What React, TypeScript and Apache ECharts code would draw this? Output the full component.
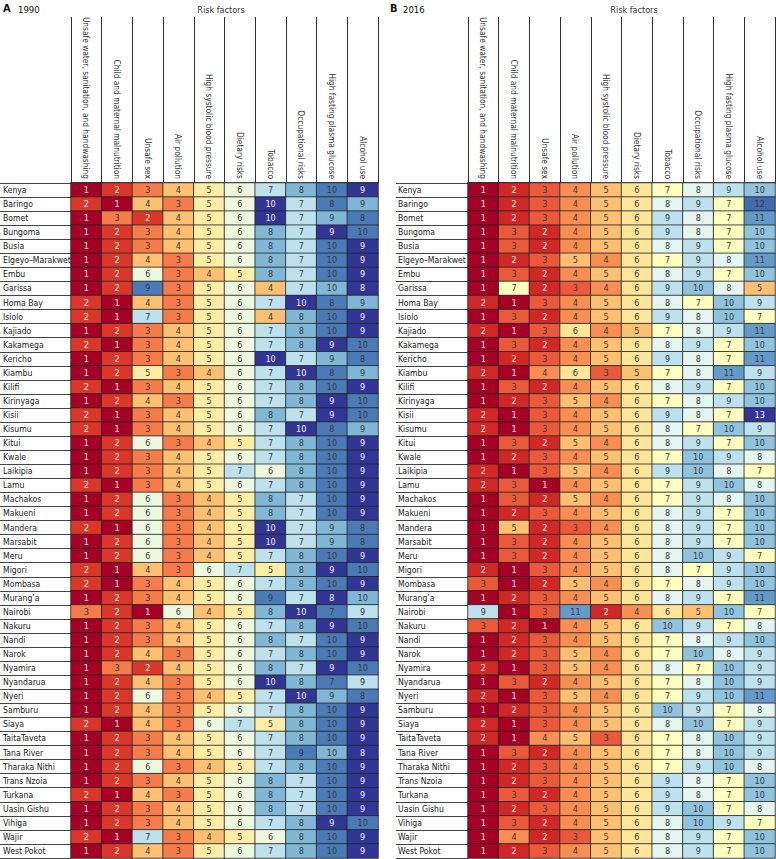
import React, { useEffect, useRef } from "react";
import * as echarts from "echarts";

const counties = [
  "Kenya", "Baringo", "Bomet", "Bungoma", "Busia", "Elgeyo–Marakwet", "Embu", "Garissa",
  "Homa Bay", "Isiolo", "Kajiado", "Kakamega", "Kericho", "Kiambu", "Kilifi", "Kirinyaga",
  "Kisii", "Kisumu", "Kitui", "Kwale", "Laikipia", "Lamu", "Machakos", "Makueni",
  "Mandera", "Marsabit", "Meru", "Migori", "Mombasa", "Murang’a", "Nairobi", "Nakuru",
  "Nandi", "Narok", "Nyamira", "Nyandarua", "Nyeri", "Samburu", "Siaya", "TaitaTaveta",
  "Tana River", "Tharaka Nithi", "Trans Nzoia", "Turkana", "Uasin Gishu", "Vihiga", "Wajir", "West Pokot",
];

const riskFactors = [
  "Unsafe water, sanitation, and handwashing",
  "Child and maternal malnutrition",
  "Unsafe sex",
  "Air pollution",
  "High systolic blood pressure",
  "Dietary risks",
  "Tobacco",
  "Occupational risks",
  "High fasting plasma glucose",
  "Alcohol use",
];

const ranks1990 = [
  [1, 2, 3, 4, 5, 6, 7, 8, 10, 9],
  [2, 1, 4, 3, 5, 6, 10, 7, 8, 9],
  [1, 3, 2, 4, 5, 6, 10, 7, 9, 8],
  [1, 2, 3, 4, 5, 6, 8, 7, 9, 10],
  [1, 2, 3, 4, 5, 6, 8, 7, 10, 9],
  [1, 2, 4, 3, 5, 6, 8, 7, 10, 9],
  [1, 2, 6, 3, 4, 5, 8, 7, 10, 9],
  [1, 2, 9, 3, 5, 6, 4, 7, 10, 8],
  [2, 1, 4, 3, 5, 6, 7, 10, 8, 9],
  [2, 1, 7, 3, 5, 6, 4, 8, 10, 9],
  [1, 2, 3, 4, 5, 6, 7, 8, 10, 9],
  [2, 1, 3, 4, 5, 6, 7, 8, 9, 10],
  [1, 2, 3, 4, 5, 6, 10, 7, 9, 8],
  [1, 2, 5, 3, 4, 6, 7, 10, 8, 9],
  [2, 1, 3, 4, 5, 6, 7, 8, 10, 9],
  [1, 2, 4, 3, 5, 6, 7, 8, 9, 10],
  [2, 1, 3, 4, 5, 6, 8, 7, 9, 10],
  [2, 1, 3, 4, 5, 6, 7, 10, 8, 9],
  [1, 2, 6, 3, 4, 5, 7, 8, 10, 9],
  [1, 2, 3, 4, 5, 6, 7, 8, 10, 9],
  [1, 2, 3, 4, 5, 7, 6, 8, 10, 9],
  [2, 1, 3, 4, 5, 6, 7, 8, 10, 9],
  [1, 2, 6, 3, 4, 5, 8, 7, 10, 9],
  [1, 2, 6, 3, 4, 5, 8, 7, 10, 9],
  [2, 1, 6, 3, 4, 5, 10, 7, 9, 8],
  [1, 2, 6, 3, 4, 5, 10, 7, 9, 8],
  [1, 2, 6, 3, 4, 5, 7, 8, 10, 9],
  [2, 1, 4, 3, 6, 7, 5, 8, 9, 10],
  [2, 1, 3, 4, 5, 6, 7, 8, 10, 9],
  [1, 2, 3, 4, 5, 6, 9, 7, 8, 10],
  [3, 2, 1, 6, 4, 5, 8, 10, 7, 9],
  [1, 2, 3, 4, 5, 6, 7, 8, 9, 10],
  [1, 2, 3, 4, 5, 6, 8, 7, 10, 9],
  [1, 2, 4, 3, 5, 6, 7, 8, 10, 9],
  [1, 3, 2, 4, 5, 6, 8, 7, 9, 10],
  [1, 2, 4, 3, 5, 6, 10, 8, 7, 9],
  [1, 2, 6, 3, 4, 5, 7, 10, 9, 8],
  [1, 2, 4, 3, 5, 6, 7, 8, 10, 9],
  [2, 1, 4, 3, 6, 7, 5, 8, 10, 9],
  [1, 2, 3, 4, 5, 6, 7, 8, 10, 9],
  [1, 2, 3, 4, 5, 6, 7, 9, 10, 8],
  [1, 2, 6, 3, 4, 5, 7, 8, 10, 9],
  [1, 2, 3, 4, 5, 6, 8, 7, 10, 9],
  [2, 1, 4, 3, 5, 6, 8, 7, 10, 9],
  [1, 2, 3, 4, 5, 6, 8, 7, 10, 9],
  [1, 2, 3, 4, 5, 6, 7, 8, 9, 10],
  [2, 1, 7, 3, 4, 5, 6, 8, 10, 9],
  [1, 2, 4, 3, 5, 6, 7, 8, 10, 9],
];

const ranks2016 = [
  [1, 2, 3, 4, 5, 6, 7, 8, 9, 10],
  [1, 2, 3, 4, 5, 6, 8, 9, 7, 12],
  [1, 2, 3, 4, 5, 6, 9, 8, 7, 11],
  [1, 3, 2, 4, 5, 6, 9, 8, 7, 10],
  [1, 3, 2, 4, 5, 6, 8, 9, 7, 10],
  [1, 2, 3, 5, 4, 6, 7, 9, 8, 11],
  [1, 3, 2, 4, 5, 6, 8, 9, 7, 10],
  [1, 7, 2, 3, 4, 6, 9, 10, 8, 5],
  [2, 1, 3, 4, 5, 6, 8, 7, 10, 9],
  [1, 3, 2, 4, 5, 6, 9, 8, 10, 7],
  [2, 1, 3, 6, 4, 5, 7, 8, 9, 11],
  [1, 3, 2, 4, 5, 6, 8, 9, 7, 10],
  [1, 2, 3, 4, 5, 6, 9, 8, 7, 11],
  [2, 1, 4, 6, 3, 5, 7, 8, 11, 9],
  [1, 3, 2, 4, 5, 6, 8, 9, 7, 10],
  [1, 2, 3, 5, 4, 6, 7, 8, 9, 10],
  [2, 1, 3, 4, 5, 6, 9, 8, 7, 13],
  [2, 1, 3, 4, 5, 6, 8, 7, 10, 9],
  [1, 3, 2, 5, 4, 6, 8, 9, 7, 10],
  [1, 2, 3, 4, 5, 6, 7, 10, 9, 8],
  [2, 1, 3, 5, 4, 6, 9, 10, 8, 7],
  [2, 3, 1, 4, 5, 6, 7, 9, 10, 8],
  [1, 3, 2, 5, 4, 6, 7, 9, 8, 10],
  [1, 2, 3, 4, 5, 6, 8, 9, 7, 10],
  [1, 5, 2, 3, 4, 6, 8, 9, 7, 10],
  [1, 3, 2, 4, 5, 6, 8, 9, 7, 10],
  [1, 3, 2, 4, 5, 6, 8, 10, 9, 7],
  [2, 1, 3, 4, 5, 6, 8, 7, 9, 10],
  [3, 1, 2, 5, 4, 6, 7, 8, 9, 10],
  [1, 2, 3, 4, 5, 6, 8, 9, 7, 11],
  [9, 1, 3, 11, 2, 4, 6, 5, 10, 7],
  [3, 2, 1, 4, 5, 6, 10, 9, 7, 8],
  [1, 2, 3, 4, 5, 6, 7, 8, 9, 10],
  [1, 2, 3, 5, 4, 6, 7, 10, 8, 9],
  [2, 1, 3, 5, 4, 6, 8, 7, 10, 9],
  [1, 3, 2, 4, 5, 6, 7, 8, 10, 9],
  [2, 1, 3, 5, 4, 6, 7, 9, 10, 11],
  [1, 2, 3, 4, 5, 6, 10, 9, 7, 8],
  [2, 1, 3, 4, 5, 6, 8, 10, 7, 9],
  [2, 1, 4, 5, 3, 6, 7, 8, 10, 9],
  [1, 3, 2, 4, 5, 6, 7, 8, 10, 9],
  [1, 2, 3, 4, 5, 6, 7, 9, 10, 8],
  [1, 2, 3, 4, 5, 6, 9, 8, 7, 10],
  [1, 3, 2, 4, 5, 6, 9, 8, 7, 10],
  [1, 2, 3, 4, 5, 6, 9, 10, 7, 8],
  [1, 3, 2, 4, 5, 6, 8, 10, 9, 7],
  [1, 4, 2, 3, 5, 6, 8, 9, 7, 10],
  [1, 2, 3, 4, 5, 6, 8, 9, 7, 10],
];

const RdYlBu = [
  "#a50026", "#d73027", "#f46d43", "#fdae61", "#fee090", "#ffffbf",
  "#e0f3f8", "#abd9e9", "#74add1", "#4575b4", "#313695",
];

const FONT = "'DejaVu Sans Condensed', 'DejaVu Sans', sans-serif";
const TXT = "#333";

// In the 1990 panel of the reference, the colours of the last two columns are interchanged.
function colourRank1990(row: number[], c: number) {
  if (c === 8) return row[9];
  if (c === 9) return row[8];
  return row[c];
}

function buildData(ranks: number[][], maxRank: number, swap: boolean) {
  const out: any[] = [];
  ranks.forEach((row, r) => {
    row.forEach((v, c) => {
      const cv = swap ? colourRank1990(row, c) : v;
      const white = cv <= 2 || cv === maxRank;
      out.push({ value: [c, r, v, cv], label: { color: white ? "#fbe9ea" : "#3a3a3a" } });
    });
  });
  return out;
}

const gridTop = 183;
const gridH = 675;

export default function App() {
  const ref = useRef<HTMLDivElement>(null);
  useEffect(() => {
    if (!ref.current) return;
    const chart = echarts.init(ref.current, null, { renderer: "svg" });
    const grids = [
      { left: 71, top: gridTop, width: 307, height: gridH },
      { left: 468, top: gridTop, width: 307, height: gridH },
    ];
    const xAxes = grids.map((_, i) => ({
      type: "category",
      gridIndex: i,
      data: riskFactors,
      position: "top",
      axisLine: { show: true, lineStyle: { color: "#222", width: 1.5 } },
      axisTick: { show: true, interval: 0, length: 166, lineStyle: { color: "#333", width: 1 } },
      axisLabel: { rotate: 90, interval: 0, margin: 4, fontSize: 8.3, color: TXT, fontFamily: FONT },
      splitLine: { show: false },
    }));
    const yAxes = grids.map((_, i) => ({
      type: "category",
      gridIndex: i,
      data: counties,
      inverse: true,
      axisLine: { show: false },
      axisTick: { show: true, interval: 0, length: i === 0 ? 71 : 72, lineStyle: { color: "#444", width: 1 } },
      axisLabel: {
        interval: 0,
        align: "left",
        margin: i === 0 ? 68 : 70,
        fontSize: 8.6,
        color: "#222",
        fontFamily: FONT,
      },
      splitLine: { show: false },
    }));
    const mkSeries = (i: number, data: any[]) => ({
      type: "heatmap",
      xAxisIndex: i,
      yAxisIndex: i,
      data,
      label: {
        show: true,
        fontSize: 9,
        fontFamily: FONT,
        formatter: (p: any) => String(p.value[2]),
      },
      itemStyle: { borderColor: "#222", borderWidth: 0.8 },
      emphasis: { disabled: true },
    });
    chart.setOption({
      animation: false,
      backgroundColor: "#fff",
      textStyle: { fontFamily: FONT },
      grid: grids,
      xAxis: xAxes,
      yAxis: yAxes,
      visualMap: [
        { type: "continuous", show: false, min: 1, max: 10, dimension: 3, seriesIndex: 0, inRange: { color: RdYlBu } },
        { type: "continuous", show: false, min: 1, max: 13, dimension: 3, seriesIndex: 1, inRange: { color: RdYlBu } },
      ],
      series: [mkSeries(0, buildData(ranks1990, 10, true)), mkSeries(1, buildData(ranks2016, 13, false))],
      graphic: [
        { type: "text", left: 3, top: 3, style: { text: "A", font: `bold 11px ${FONT}`, fill: "#111" } },
        { type: "text", left: 18, top: 4, style: { text: "1990", font: `9.5px ${FONT}`, fill: "#111" } },
        { type: "text", x: 221, y: 10, style: { text: "Risk factors", font: `9px ${FONT}`, fill: TXT, align: "center", verticalAlign: "middle" } },
        { type: "text", left: 390, top: 3, style: { text: "B", font: `bold 11px ${FONT}`, fill: "#111" } },
        { type: "text", left: 403, top: 4, style: { text: "2016", font: `9.5px ${FONT}`, fill: "#111" } },
        { type: "text", x: 634, y: 10, style: { text: "Risk factors", font: `9px ${FONT}`, fill: TXT, align: "center", verticalAlign: "middle" } },
      ],
    });
    return () => chart.dispose();
  }, []);
  return <div ref={ref} style={{ position: "absolute", left: 0, top: 0, width: 776, height: 859 }} />;
}
